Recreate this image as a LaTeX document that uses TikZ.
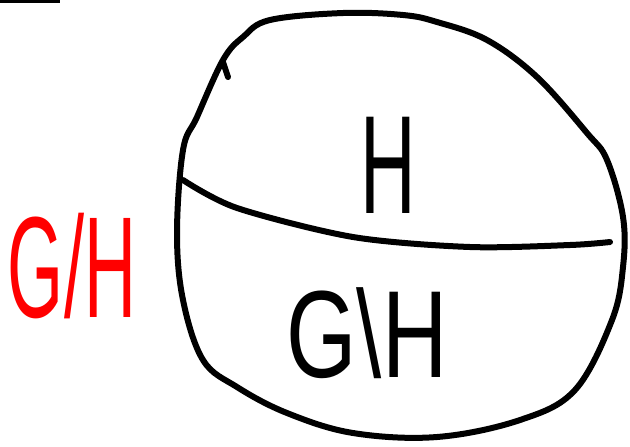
\documentclass[tikz,border=0pt]{standalone}
\usepackage{fontspec}
\setmainfont{Liberation Sans}
\usetikzlibrary{positioning}
\definecolor{penred}{RGB}{255,0,0}

\begin{document}
\begin{tikzpicture}[
    x=0.5pt, y=-0.5pt,
    pen/.style={line width=3pt, line cap=round, line join=round},
    handtext/.style={inner sep=0pt, font=\fontsize{70}{70}\selectfont}
]
\useasboundingbox (0,0) rectangle (630,446);

% === Trazo suelto arriba ===
\draw[line width=1.5pt] (0,1) -- (60,1);

% === Círculo G ===
\draw[pen] plot[smooth cycle, tension=0.6] coordinates {
    (270,20) (343,13) (403,15) (437,22) (487,40) (537,77) (587,133)
    (607,160) (623,217) (623,267) (612,320) (575,390) (520,420)
    (437,437) (353,433) (287,413) (237,387) (203,360) (183,300)
    (177,233) (183,150) (197,117) (223,60) (243,37)};
\draw[pen] (228,77) -- (223,62);

% === Línea divisoria ===
\draw[pen] plot[smooth, tension=0.5] coordinates {
    (183,180) (237,208) (353,237) (470,247) (570,245) (610,242)};

% === Etiquetas ===
\node[handtext] (subH) at (388,165) {\scalebox{0.55}[1]{H}};
\node[handtext, font=\fontsize{62}{62}\selectfont] (restGH) at (367,333)
    {\scalebox{0.73}[1]{G\textbackslash H}};
\node[handtext, text=penred, font=\fontsize{72}{72}\selectfont] (quotGH) at (72,266)
    {\scalebox{0.5}[1]{G/H}};

\end{tikzpicture}
\end{document}
